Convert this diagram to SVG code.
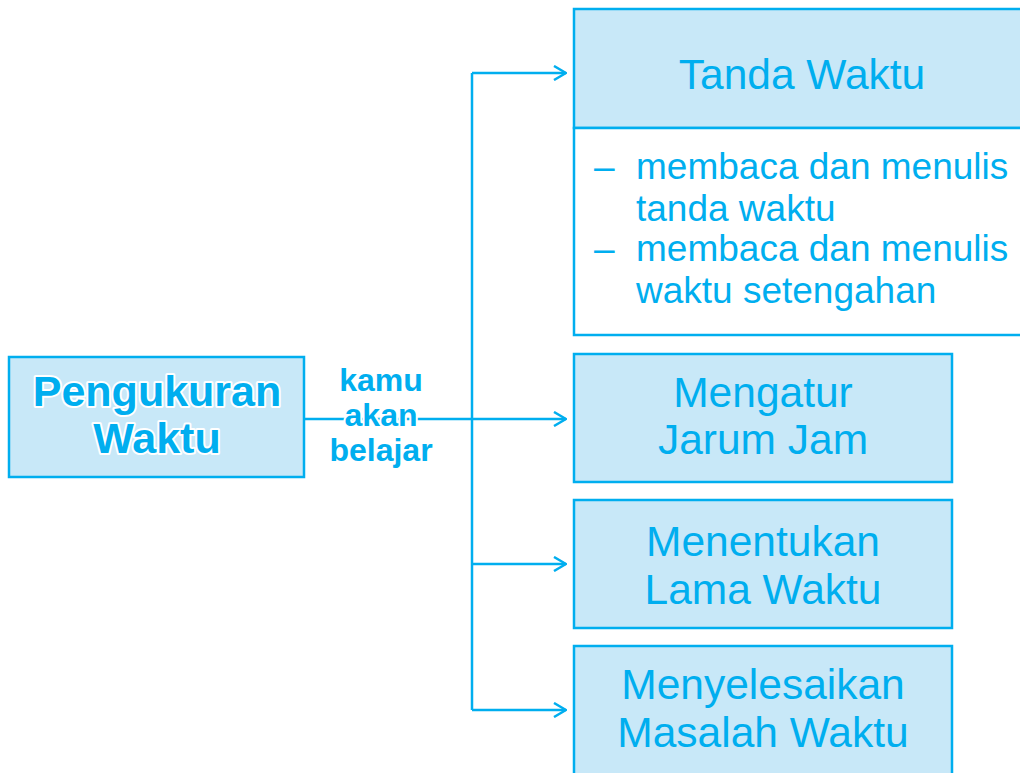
<svg xmlns="http://www.w3.org/2000/svg" width="1020" height="773" viewBox="0 0 1020 773">
<style>
.box{fill:#c8e8f8;stroke:#00aeef;stroke-width:2.5}
.wbox{fill:#fff;stroke:#00aeef;stroke-width:2.5}
.t{font-family:"Liberation Sans",Arial,sans-serif;fill:#00aeef;text-anchor:middle}
.big{font-size:42.5px}
.body{font-family:"Liberation Sans",Arial,sans-serif;fill:#00aeef;font-size:37px}
.bold{font-weight:bold;stroke:#fff;stroke-width:4;paint-order:stroke;stroke-linejoin:round}
.ln{fill:none;stroke:#00aeef;stroke-width:2.5}
</style>
<defs>
<marker id="ah" viewBox="0 0 14 16" refX="13" refY="8" markerWidth="14" markerHeight="16" markerUnits="userSpaceOnUse" orient="auto">
<path d="M1,1 L13,8 L1,15" fill="none" stroke="#00aeef" stroke-width="2.5"/>
</marker>
</defs>
<rect width="1020" height="773" fill="#fff"/>
<g id="connectors">
<line class="ln" x1="304" y1="419" x2="566" y2="419" marker-end="url(#ah)"/>
<polyline class="ln" points="472,73 472,710"/>
<path class="ln" d="M472,73 L566,73" marker-end="url(#ah)"/>
<path class="ln" d="M472,564 L566,564" marker-end="url(#ah)"/>
<path class="ln" d="M472,710 L566,710" marker-end="url(#ah)"/>
<g class="t bold" style="font-size:32px">
<text x="381" y="391">kamu</text>
<text x="381" y="426">akan</text>
<text x="381" y="461">belajar</text>
</g>
</g>
<g id="pengukuran">
<rect class="box" x="9" y="357" width="295" height="120"/>
<text class="t big bold" style="font-size:43px" x="157" y="406">Pengukuran</text>
<text class="t big bold" style="font-size:43px" x="157" y="453">Waktu</text>
</g>
<g id="tanda-waktu">
<rect class="box" x="574" y="9" width="460" height="119"/>
<rect class="wbox" x="574" y="128" width="460" height="207"/>
<text class="t big" x="802" y="89">Tanda Waktu</text>
<text class="body" x="594" y="179">–</text>
<text class="body" x="636" y="179">membaca dan menulis</text>
<text class="body" x="636" y="221">tanda waktu</text>
<text class="body" x="594" y="261">–</text>
<text class="body" x="636" y="261">membaca dan menulis</text>
<text class="body" x="636" y="303">waktu setengahan</text>
</g>
<g id="mengatur">
<rect class="box" x="574" y="354" width="378" height="128"/>
<text class="t big" x="763" y="407">Mengatur</text>
<text class="t big" x="763" y="454">Jarum Jam</text>
</g>
<g id="menentukan">
<rect class="box" x="574" y="500" width="378" height="128"/>
<text class="t big" x="763" y="556">Menentukan</text>
<text class="t big" x="763" y="604">Lama Waktu</text>
</g>
<g id="menyelesaikan">
<rect class="box" x="574" y="646" width="378" height="140"/>
<text class="t big" x="763" y="699">Menyelesaikan</text>
<text class="t big" x="763" y="747">Masalah Waktu</text>
</g>
</svg>
